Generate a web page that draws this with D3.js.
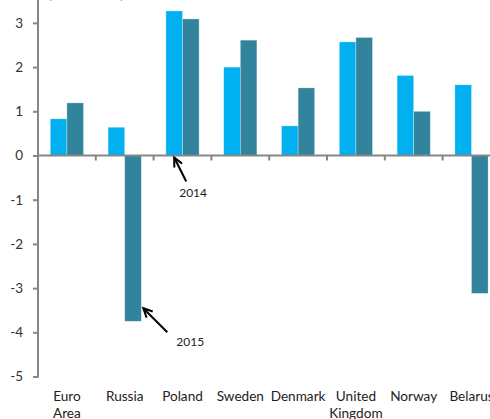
<!DOCTYPE html>
<html><head><meta charset="utf-8">
<script src="https://cdn.jsdelivr.net/npm/d3@7"></script>
<style>html,body{margin:0;padding:0;background:#fff;overflow:hidden}</style>
</head><body>
<svg id="c" width="490" height="419"></svg>
<script>
const categories = [["Euro","Area"],["Russia"],["Poland"],["Sweden"],["Denmark"],["United","Kingdom"],["Norway"],["Belarus"]];
const series = ["2014","2015"];
const values2014 = [0.83, 0.64, 3.27, 2.00, 0.67, 2.57, 1.81, 1.60];
const values2015 = [1.19, -3.75, 3.09, 2.61, 1.53, 2.67, 1.00, -3.12];
const yTicks = [-5,-4,-3,-2,-1,0,1,2,3];
const colors = ["#00B0F0", "#31849B"];

const svg = d3.select("#c");
const font = "Lato, 'Open Sans', sans-serif";
const x = d3.scaleBand().domain(d3.range(categories.length)).range([38, 500.4]).paddingInner(0).paddingOuter(0);
const y = d3.scaleLinear().domain([-5, 3.5]).range([376.5, 0.8]);
const bw = 16.6;

// title fragment
svg.append("text").attr("x", 48).attr("y", -1).attr("font-family", font).attr("font-size", 14)
  .attr("fill", "#4F81BD").attr("textLength", 76).text("(Percent)");

// bars
const data = [values2014, values2015];
data.forEach((vals, si) => {
  svg.append("g").selectAll("rect").data(vals).join("rect")
    .attr("x", (d, i) => x(i) + x.bandwidth() / 2 - bw + si * bw)
    .attr("width", bw)
    .attr("y", d => y(Math.max(0, d)))
    .attr("height", d => Math.abs(y(d) - y(0)))
    .attr("fill", colors[si])
    .attr("stroke", "rgba(255,255,255,0.5)").attr("stroke-width", 0.6);
});

// y axis
const ya = svg.append("g").attr("transform", "translate(38,0)")
  .call(d3.axisLeft(y).tickValues(yTicks).tickSize(5).tickPadding(10).tickFormat(d3.format("d")));
ya.select(".domain").remove();
ya.selectAll(".tick line").attr("stroke", "#868686").attr("stroke-width", 2);
ya.selectAll(".tick text").attr("font-family", font).attr("font-size", 13.5).attr("fill", "#333")
  .text(d => d < 0 ? "-" + Math.abs(d) : d);
svg.append("line").attr("x1", 38).attr("x2", 38).attr("y1", 0).attr("y2", y(-5) + 1)
  .attr("stroke", "#868686").attr("stroke-width", 2);

// zero axis
svg.append("line").attr("x1", 37).attr("x2", 490).attr("y1", y(0)).attr("y2", y(0))
  .attr("stroke", "#868686").attr("stroke-width", 2);
svg.append("g").selectAll("line").data(d3.range(1, categories.length)).join("line")
  .attr("x1", i => x(i)).attr("x2", i => x(i))
  .attr("y1", y(0)).attr("y2", y(0) + 5)
  .attr("stroke", "#868686").attr("stroke-width", 2);

// category labels
const lab = svg.append("g").selectAll("text").data(categories).join("text")
  .attr("x", (d, i) => x(i) + x.bandwidth() / 2)
  .attr("y", 401)
  .attr("text-anchor", "middle")
  .attr("font-family", font).attr("font-size", 13.6).attr("fill", "#222");
lab.each(function(d) {
  const t = d3.select(this);
  d.forEach((line, k) => t.append("tspan").attr("x", t.attr("x")).attr("dy", k === 0 ? 0 : 17).text(line));
});

// annotations
function arrow(x1, y1, x2, y2) {
  svg.append("line").attr("x1", x1).attr("y1", y1).attr("x2", x2).attr("y2", y2)
    .attr("stroke", "#000").attr("stroke-width", 2);
  const ang = Math.atan2(y1 - y2, x1 - x2);
  const L = 10, a = 0.45;
  const p = `M${x2 + L * Math.cos(ang - a)},${y2 + L * Math.sin(ang - a)} L${x2},${y2} L${x2 + L * Math.cos(ang + a)},${y2 + L * Math.sin(ang + a)}`;
  svg.append("path").attr("d", p).attr("fill", "none").attr("stroke", "#000").attr("stroke-width", 2);
}
const px = x(2) + x.bandwidth() / 2 - bw / 2;
arrow(px + 12, y(0) + 26, px, y(0) + 2);
svg.append("text").attr("x", px + 5).attr("y", y(0) + 41).attr("font-family", font).attr("font-size", 12)
  .attr("fill", "#222").text(series[0]);

const rx = x(1) + x.bandwidth() / 2 + bw + 2;
const ry = y(values2015[1]) - 13;
arrow(rx + 24, ry + 24, rx, ry);
svg.append("text").attr("x", rx + 33).attr("y", ry + 38).attr("font-family", font).attr("font-size", 12)
  .attr("fill", "#222").text(series[1]);
</script>
</body></html>
